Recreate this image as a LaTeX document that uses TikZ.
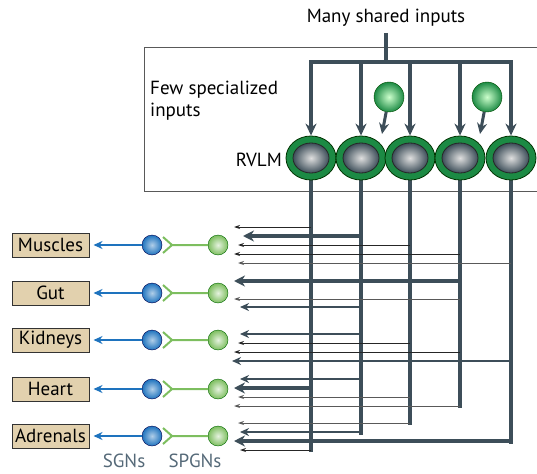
\documentclass[tikz,border=0pt]{standalone}
\usepackage{fontspec}
\setmainfont{PT Sans}
\usetikzlibrary{shapes.geometric,arrows.meta}
\definecolor{slate}{RGB}{61,78,89}
\definecolor{ring}{RGB}{28,138,68}
\definecolor{sgncol}{RGB}{30,115,190}
\definecolor{spgncol}{RGB}{125,190,95}
\definecolor{boxtan}{RGB}{226,209,174}
\definecolor{lblcol}{RGB}{85,105,120}

\begin{document}
\begin{tikzpicture}[x=1pt,y=-1pt,font=\fontsize{19}{22}\selectfont,
        trunk/.style={slate,line width=4.5pt,line cap=rect},
        drop/.style={slate,line width=4pt,-{Stealth[length=12pt,width=11pt]}},
        fat/.style={slate,line width=4.5pt,-{Stealth[length=11pt,width=11pt]}},
        mid/.style={slate,line width=2.6pt,-{Stealth[length=9pt,width=8pt]}},
        thinb/.style={black!85,line width=0.9pt,-{Stealth[length=6pt,width=4pt]}},
        thing/.style={black!65,line width=1pt,-{Stealth[length=6pt,width=4pt]}},
        organ/.style={draw=black!80,line width=1pt,fill=boxtan,minimum width=77pt,minimum height=24pt,inner sep=1pt},
        sgn/.style={circle,draw=black!70!blue,inner color=sgncol!35!white,outer color=sgncol,minimum size=20pt,inner sep=0pt},
        spgn/.style={circle,draw=black!60!green,inner color=spgncol!20!white,outer color=spgncol,minimum size=20pt,inner sep=0pt},
        fork/.style={spgncol,line width=2pt},
        sgnline/.style={sgncol,line width=2pt,-{Stealth[length=9pt,width=8pt]},shorten >=4pt}]
                \useasboundingbox (0,0) rectangle (537,473);
                \draw[black!65,line width=0.9pt] (537,47) -- (144,47) -- (144,191) -- (537,191);
                \node (many) at (386,18) {Many shared inputs};
                \node[anchor=north west,align=left,inner sep=0pt] (few) at (150,81) {Few specialized\\inputs};
                \node[anchor=east,inner sep=0pt] (rvlm) at (282,160) {RVLM};
                \coordinate (top) at (386,33);
                \coordinate (hub) at (386,62);
                \foreach \x/\n/\y in {311/r1/450, 361/r2/433, 410/r3/423, 460/r4/406, 511/r5/442}
                \coordinate (b\n) at (\x,\y);
                \foreach \n in {r1,r2,r3,r4,r5}
                \draw[trunk] (b\n |- 0,170) -- (b\n);
                \draw[trunk,line cap=butt] (top) -- (hub);
                \draw[trunk] (br1 |- hub) -- (br5 |- hub);
                \foreach \x/\n in {311/r1, 361/r2, 410/r3, 460/r4, 511/r5}{
                \node[ellipse,draw=black!80!green,fill=ring,line width=0.8pt,minimum width=50pt,minimum height=44pt] (\n) at (\x,158) {};
                \node[ellipse,draw=black!85,line width=0.8pt,inner color=white!75!gray,outer color=slate,minimum width=36pt,minimum height=30pt] (i\n) at (\n) {};
                \draw[drop] (\n |- hub) -- (\n.north);}
                \foreach \x/\n/\e in {389/s1/382, 487/s2/480}{
                \node[circle,draw=black!70!green,inner color=green!20!white,outer color=ring,minimum size=30pt,inner sep=0pt] (\n) at (\x,97) {};
                \coordinate (t\n) at (\e,134);
                \draw[slate,line width=3pt,-{Stealth[length=11pt,width=10pt]}] (\n) -- (t\n);}
                \foreach \y/\n/\e/\s in {227/r1/234/thinb, 236/r2/243/fat, 245/r3/238/thinb, 254/r4/234/thinb, 263/r5/238/thing,
                        281/r4/234/fat, 299/r4/234/thing, 307/r2/240/mid,
                        334/r2/240/mid, 343/r3/238/thinb, 352/r4/234/thinb, 361/r5/232/mid,
                        379/r2/240/mid, 388/r1/234/fat, 397/r3/238/thing, 406/r4/234/thing,
                        423/r3/238/thing, 432/r2/240/mid, 441/r5/234/fat, 450/r1/240/thinb}{
                \coordinate (h\y) at (\e,\y);
                \draw[\s] (\n |- h\y) -- (h\y);}
                \foreach \y/\n/\t in {245/m/Muscles, 293/g/Gut, 340/k/Kidneys, 389/h/Heart, 436/a/Adrenals}{
                \node[organ] (o\n) at (50.5,\y) {\t};
                \node[sgn] (g\n) at (152,\y) {};
                \node[spgn] (p\n) at (218,\y) {};
                \coordinate (f\n) at (172,\y);
                \draw[sgnline] (g\n) -- (o\n);
                \draw[fork] (p\n) -- (f\n) +(-9,-8) -- (f\n) -- +(-9,8);}
                \node[lblcol,inner sep=0pt] (sgns) at (124,461) {SGNs};
                \node[lblcol,inner sep=0pt] (spgns) at (195,461) {SPGNs};
\end{tikzpicture}
\end{document}
